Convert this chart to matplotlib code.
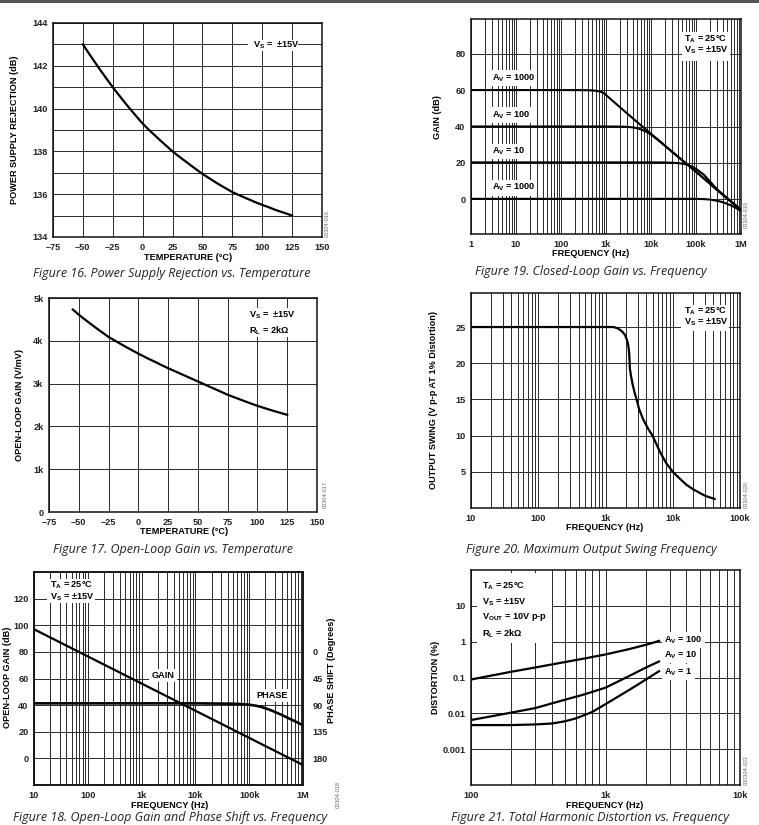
import numpy as np
import matplotlib
matplotlib.use('Agg')
import matplotlib.pyplot as plt
from matplotlib.patches import Rectangle
from matplotlib.ticker import LogLocator, NullFormatter

plt.rcParams['font.family'] = ['Liberation Sans', 'DejaVu Sans']
plt.rcParams['font.weight'] = 'bold'
plt.rcParams['mathtext.fontset'] = 'custom'
plt.rcParams['mathtext.rm'] = 'Liberation Sans:bold'
plt.rcParams['mathtext.it'] = 'Liberation Sans:bold'
plt.rcParams['mathtext.bf'] = 'Liberation Sans:bold'

# ---- Figure 16: PSR vs temperature
psr_temp = [-50, -45, -40, -35, -30, -25, -20, -15, -10, -5, 0, 5, 10, 15, 20, 25, 30, 35,
            40, 45, 50, 55, 60, 65, 70, 75, 80, 85, 90, 95, 100, 105, 110, 115, 120, 125]
psr_db = [143.0, 142.58, 142.17, 141.77, 141.38, 141.0, 140.64, 140.29, 139.95, 139.62,
          139.3, 139.02, 138.76, 138.5, 138.25, 138.0, 137.78, 137.57, 137.36, 137.15,
          136.95, 136.77, 136.59, 136.42, 136.26, 136.1, 135.97, 135.85, 135.73, 135.61,
          135.5, 135.4, 135.29, 135.19, 135.1, 135.0]

# ---- Figure 17: open-loop gain vs temperature (V/mV)
olg_temp = [-55, -50, -45, -40, -35, -30, -25, -20, -15, -10, -5, 0, 5, 10, 15, 20, 25, 30,
            35, 40, 45, 50, 55, 60, 65, 70, 75, 80, 85, 90, 95, 100, 105, 110, 115, 120, 125]
olg_vmv = [4730, 4610, 4500, 4395, 4290, 4190, 4090, 4010, 3930, 3850, 3775, 3700, 3630,
           3560, 3495, 3425, 3360, 3298, 3236, 3174, 3112, 3050, 2988, 2926, 2864, 2802,
           2740, 2686, 2634, 2582, 2530, 2480, 2436, 2392, 2350, 2310, 2270]

temp_ticks = [-75, -50, -25, 0, 25, 50, 75, 100, 125, 150]
temp_labels = ['–75', '–50', '–25', '0', '25', '50', '75', '100', '125', '150']

# ---- Figure 19: closed-loop gain vs frequency
cl_f_1000 = [1, 100, 300, 500, 600, 700, 800, 900, 1000, 1300, 1700, 2000, 3000, 5000,
             10000, 30000, 100000, 300000, 1000000]
cl_g_1000 = [60, 60, 59.95, 59.8, 59.6, 59.3, 58.9, 58.3, 57.3, 54.8, 52.3, 50.8, 47.0,
             42.3, 36.0, 26.0, 15.2, 5.0, -5.8]
cl_f_100 = [1, 1000, 2000, 3000, 4000, 5000, 6000, 7000, 8000, 10000, 15000, 30000,
            100000, 300000, 1000000]
cl_g_100 = [40, 40, 39.95, 39.8, 39.5, 39.0, 38.4, 37.7, 37.0, 35.6, 32.2, 25.9, 15.2, 5.0, -5.8]
cl_f_10 = [1, 10000, 20000, 30000, 40000, 50000, 60000, 70000, 80000, 100000, 150000,
           300000, 1000000]
cl_g_10 = [20.3, 20.3, 20.25, 20.1, 19.9, 19.6, 19.2, 18.7, 18.1, 16.8, 13.5, 5.3, -5.8]
cl_f_1 = [1, 100000, 150000, 200000, 300000, 400000, 500000, 700000, 1000000]
cl_g_1 = [0.3, 0.3, 0.15, -0.1, -0.8, -1.6, -2.5, -4.1, -6.3]
cl_labels = ['A$_{\\rm V}$ = 1000', 'A$_{\\rm V}$ = 100', 'A$_{\\rm V}$ = 10', 'A$_{\\rm V}$ = 1000']
cl_label_y = [66.5, 46.4, 26.3, 6.4]

# ---- Figure 20: max output swing vs frequency
sw_f = [10, 1000, 1300, 1500, 1650, 1800, 1950, 2050, 2150, 2200, 2250, 2280, 2300, 2400,
        2540, 2750, 2900, 3150, 3650, 4400, 5000, 6500, 8000, 10000, 12900, 16000, 20000,
        25000, 30000, 36000, 42000]
sw_v = [25, 25, 25, 24.85, 24.6, 24.3, 23.9, 23.4, 22.8, 22.2, 21.4, 20.3, 19.3, 18.2,
        17.0, 15.7, 15.0, 13.7, 12.2, 10.8, 10.0, 7.7, 6.2, 5.0, 4.0, 3.2, 2.6, 2.1, 1.7,
        1.45, 1.25]

# ---- Figure 18: open-loop gain and phase vs frequency
ol_f = [10, 100, 1000, 10000, 100000, 1000000]
ol_db = [97, 76.6, 56.2, 35.8, 15.4, -5.0]
ph_f = [10, 1000, 10000, 50000, 80000, 100000, 130000, 160000, 200000, 250000, 300000,
        400000, 500000, 700000, 1000000]
ph_deg = [87, 87, 87, 87.6, 88.5, 89.3, 90.8, 92.6, 95.2, 98.5, 101.5, 106.5, 110.8, 117, 124]

# ---- Figure 21: THD vs frequency (%)
thd_f = [100, 200, 300, 500, 700, 1000, 1500, 2000, 2500]
thd_100 = [0.088, 0.145, 0.19, 0.27, 0.34, 0.44, 0.62, 0.82, 1.05]
thd_10 = [0.0065, 0.0105, 0.014, 0.024, 0.034, 0.052, 0.11, 0.19, 0.28]
thd_f1 = [100, 200, 300, 400, 500, 600, 700, 800, 900, 1000, 1500, 2000, 2500]
thd_1 = [0.0047, 0.0047, 0.0049, 0.0052, 0.006, 0.0072, 0.009, 0.011, 0.0143, 0.018,
         0.045, 0.088, 0.15]

W, H = 759, 825
fig = plt.figure(figsize=(W / 100, H / 100), dpi=100)
GC = '#2a2a2a'
FS = 6.6


def add_ax(l, t, r, b):
    return fig.add_axes([l / W, 1 - b / H, (r - l) / W, (b - t) / H])


def ftext(x, y, s, **kw):
    kw.setdefault('fontsize', FS)
    return fig.text(x / W, 1 - y / H, s, **kw)


def style(ax, pad=4):
    ax.tick_params(which='both', length=0, labelsize=FS, pad=pad, colors='#222')
    for s in ax.spines.values():
        s.set_linewidth(1.1)
        s.set_color('#111')
    ax.set_axisbelow(True)


def logx(ax, lo, hi, labels):
    ax.set_xscale('log')
    ax.set_xlim(lo, hi)
    ax.xaxis.set_minor_locator(LogLocator(base=10, subs=np.arange(2, 10), numticks=20))
    ax.xaxis.set_minor_formatter(NullFormatter())
    ax.set_xticks([lo * 10 ** i for i in range(len(labels))])
    ax.set_xticklabels(labels)
    ax.grid(True, which='both', axis='x', color=GC, lw=0.7)


def info(rect, lines):
    l, t, r, b = rect
    fig.add_artist(Rectangle((l / W, 1 - b / H), (r - l) / W, (b - t) / H,
                             transform=fig.transFigure, facecolor='white',
                             edgecolor='none', zorder=2))
    for x, y, s in lines:
        ftext(x, y, s, ha='left', va='center', zorder=3)


def ident(x, y, s):
    ftext(x, y, s, rotation=90, fontsize=4, fontweight='normal', color='#666',
          ha='center', va='center')


def caption(x, y, s):
    ftext(x, y, s, fontsize=9, fontweight='normal', style='italic',
          family=['Open Sans', 'DejaVu Sans'], ha='center', va='center', color='#222')


wbox = dict(facecolor='white', edgecolor='none', pad=1.5)
TA = 'T$_{\\rm A}$ = 25°C'
VS = 'V$_{\\rm S}$ = ±15V'

# top rule
fig.add_artist(plt.Line2D([0, 1], [1 - 1 / H, 1 - 1 / H], color='#555', lw=2.2))

# ===== Figure 16
ax = add_ax(53, 23, 322, 237)
style(ax)
ax.plot(psr_temp, psr_db, color='black', lw=1.6)
ax.set_xlim(-75, 150)
ax.set_ylim(134, 144)
ax.set_xticks(temp_ticks)
ax.set_xticklabels(temp_labels)
ax.set_yticks([134, 136, 138, 140, 142, 144])
ax.set_yticks(np.arange(135, 144, 2), minor=True)
ax.grid(True, which='both', color=GC, lw=0.7)
info((248, 40, 298, 51), [(253, 45.7, 'V$_{\\rm S}$ =  ±15V')])
ftext(188, 257, 'TEMPERATURE (°C)', ha='center', va='center')
ftext(15, 130, 'POWER SUPPLY REJECTION (dB)', rotation=90, ha='center', va='center')
ident(327, 224, '00304-016')
caption(172, 274, 'Figure 16. Power Supply Rejection vs. Temperature')

# ===== Figure 19
ax = add_ax(471, 19, 741, 234)
style(ax)
logx(ax, 1, 1e6, ['1', '10', '100', '1k', '10k', '100k', '1M'])
for f, g in [(cl_f_1000, cl_g_1000), (cl_f_100, cl_g_100), (cl_f_10, cl_g_10), (cl_f_1, cl_g_1)]:
    ax.plot(f, g, color='black', lw=1.5)
ax.set_ylim(-19, 99)
ax.set_yticks([0, 20, 40, 60, 80])
ax.grid(True, which='major', axis='y', color=GC, lw=0.7)
for s, y in zip(cl_labels, cl_label_y):
    ax.text(2.9, y, s, fontsize=FS, ha='left', va='center', bbox=wbox)
info((682, 32, 730, 61), [(684.3, 39, TA), (684.3, 50, VS)])
ftext(591, 253, 'FREQUENCY (Hz)', ha='center', va='center')
ftext(437, 117, 'GAIN (dB)', rotation=90, ha='center', va='center')
ident(746, 215, '00304-019')
caption(591, 272, 'Figure 19. Closed-Loop Gain vs. Frequency')

# ===== Figure 17
ax = add_ax(49, 298, 317, 512)
style(ax)
ax.plot(olg_temp, olg_vmv, color='black', lw=1.6)
ax.set_xlim(-75, 150)
ax.set_ylim(0, 5000)
ax.set_xticks(temp_ticks)
ax.set_xticklabels(temp_labels)
ax.set_yticks([0, 1000, 2000, 3000, 4000, 5000])
ax.set_yticklabels(['0', '1k', '2k', '3k', '4k', '5k'])
ax.grid(True, which='major', color=GC, lw=0.7)
info((246, 308, 297, 337), [(249, 315, 'V$_{\\rm S}$ =  ±15V'), (249, 330.7, 'R$_{\\rm L}$ = 2kΩ')])
ftext(184, 532, 'TEMPERATURE (°C)', ha='center', va='center')
ftext(20, 405, 'OPEN-LOOP GAIN (V/mV)', rotation=90, ha='center', va='center')
ident(325, 495, '00304-017')
caption(173, 549, 'Figure 17. Open-Loop Gain vs. Temperature')

# ===== Figure 20
ax = add_ax(471, 293, 740, 508)
style(ax)
logx(ax, 10, 1e5, ['10', '100', '1k', '10k', '100k'])
ax.plot(sw_f, sw_v, color='black', lw=1.6)
ax.set_ylim(0, 29.7)
ax.set_yticks([5, 10, 15, 20, 25])
ax.grid(True, which='major', axis='y', color=GC, lw=0.7)
info((681, 305, 729, 331), [(684.3, 311.7, TA), (684.3, 322.7, VS)])
ftext(605, 527, 'FREQUENCY (Hz)', ha='center', va='center')
ftext(434, 400, 'OUTPUT SWING (V p-p AT 1% Distortion)', rotation=90, ha='center', va='center')
ident(746, 495, '00304-020')
caption(591, 549, 'Figure 20. Maximum Output Swing Frequency')

# ===== Figure 18
ax = add_ax(34, 572, 303, 785)
style(ax)
logx(ax, 10, 1e6, ['10', '100', '1k', '10k', '100k', '1M'])
ax.plot(ol_f, ol_db, color='black', lw=1.6)
ax.set_ylim(-20, 140)
ax.set_yticks([0, 20, 40, 60, 80, 100, 120])
ax.grid(True, which='major', axis='y', color=GC, lw=0.7)
ax.text(2.5e3, 62.5, 'GAIN', fontsize=FS, ha='center', va='center', bbox=wbox)
ax.text(2.63e5, 47, 'PHASE', fontsize=FS, ha='center', va='center', bbox=wbox)
ax2 = ax.twinx()
style(ax2, pad=7)
ax2.plot(ph_f, ph_deg, color='black', lw=1.9)
ax2.set_ylim(225, -135)
ax2.set_yticks([0, 45, 90, 135, 180])
info((47, 579, 95, 603), [(50, 585.7, TA), (50, 597.7, VS)])
ftext(170, 805, 'FREQUENCY (Hz)', ha='center', va='center')
ftext(8, 677, 'OPEN-LOOP GAIN (dB)', rotation=90, ha='center', va='center')
ftext(331, 670, 'PHASE SHIFT (Degrees)', rotation=90, ha='center', va='center')
ident(338, 795, '00304-018')
caption(170, 818, 'Figure 18. Open-Loop Gain and Phase Shift vs. Frequency')

# ===== Figure 21
ax = add_ax(471, 570, 740, 785)
style(ax)
logx(ax, 100, 1e4, ['100', '1k', '10k'])
ax.set_yscale('log')
ax.set_ylim(1e-4, 100)
ax.plot(thd_f, thd_100, color='black', lw=1.6)
ax.plot(thd_f, thd_10, color='black', lw=1.6)
ax.plot(thd_f1, thd_1, color='black', lw=1.6)
ax.set_yticks([0.001, 0.01, 0.1, 1, 10])
ax.set_yticklabels(['0.001', '0.01', '0.1', '1', '10'])
ax.yaxis.set_minor_locator(plt.NullLocator())
ax.grid(True, which='major', axis='y', color=GC, lw=0.7)
for s, y in zip(['A$_{\\rm V}$ = 100', 'A$_{\\rm V}$ = 10', 'A$_{\\rm V}$ = 1'], [1.1, 0.41, 0.14]):
    ax.text(2720, y, s, fontsize=FS, ha='left', va='center', bbox=wbox)
info((477, 573, 552, 643), [(481.7, 586.7, TA), (481.7, 602, VS),
                            (481.7, 617, 'V$_{\\rm OUT}$ = 10V p-p'),
                            (481.7, 634, 'R$_{\\rm L}$ = 2kΩ')])
ftext(605, 805, 'FREQUENCY (Hz)', ha='center', va='center')
ftext(435, 677, 'DISTORTION (%)', rotation=90, ha='center', va='center')
ident(746, 770, '000304-021')
caption(590, 818, 'Figure 21. Total Harmonic Distortion vs. Frequency')

fig.savefig('out.png', dpi=100)
